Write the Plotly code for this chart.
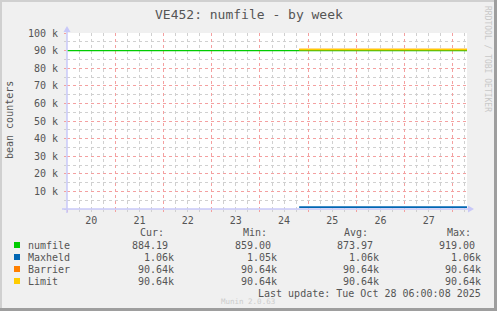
import plotly.graph_objects as go

# ---------------- data ----------------
full_times = ["2025-10-19 23:55", "2025-10-28 07:05"]
numfile_vals = [90000, 90000]
recent_times = ["2025-10-24 19:31", "2025-10-28 07:05"]
maxheld_vals = [1060, 1060]
barrier_vals = [90640, 90640]
limit_vals = [90640, 90640]

y_tick_vals = [10000, 20000, 30000, 40000, 50000, 60000, 70000, 80000, 90000, 100000]
y_tick_text = ["10 k", "20 k", "30 k", "40 k", "50 k", "60 k", "70 k", "80 k", "90 k", "100 k"]

legend_names = ["numfile", "Maxheld", "Barrier", "Limit"]
legend_colors = ["#00CC00", "#0066B3", "#FF8000", "#FFCC00"]
cur_vals = ["884.19", "1.06k", "90.64k", "90.64k"]
min_vals = ["859.00", "1.05k", "90.64k", "90.64k"]
avg_vals = ["873.97", "1.06k", "90.64k", "90.64k"]
max_vals = ["919.00", "1.06k", "90.64k", "90.64k"]
col_headers = ["Cur:", "Min:", "Avg:", "Max:"]

# ---------------- layout helpers ----------------
W, H = 497, 311
L, R, T, B = 67, 30, 33, 102
PW, PH = W - L - R, H - T - B
FONT = "DejaVu Sans Mono"
TXT = "#555555"


def px(x):
    return (x - L) / PW


def py(y):
    return (H - B - y) / PH


fig = go.Figure()
fig.add_trace(go.Scatter(x=full_times, y=numfile_vals, mode="lines",
                         line=dict(color=legend_colors[0], width=1.3), hoverinfo="skip"))
fig.add_trace(go.Scatter(x=recent_times, y=maxheld_vals, mode="lines",
                         line=dict(color=legend_colors[1], width=1.6), hoverinfo="skip"))
fig.add_trace(go.Scatter(x=recent_times, y=barrier_vals, mode="lines",
                         line=dict(color=legend_colors[2], width=1.6), hoverinfo="skip"))
fig.add_trace(go.Scatter(x=recent_times, y=limit_vals, mode="lines",
                         line=dict(color=legend_colors[3], width=1.6), hoverinfo="skip"))

annotations = []
shapes = []

# title
annotations.append(dict(x=px(248.5), y=py(14), xref="paper", yref="paper", text="VE452: numfile - by week",
                        showarrow=False, font=dict(family=FONT, size=13, color=TXT),
                        xanchor="center", yanchor="middle"))
# y title
annotations.append(dict(x=px(10), y=py(120), xref="paper", yref="paper", text="bean counters",
                        showarrow=False, textangle=-90, font=dict(family=FONT, size=10, color=TXT),
                        xanchor="center", yanchor="middle"))
# rrdtool watermark
annotations.append(dict(x=px(488), y=py(59), xref="paper", yref="paper", text="RRDTOOL / TOBI OETIKER",
                        showarrow=False, textangle=90, font=dict(family=FONT, size=8, color="#c8c8c8"),
                        xanchor="center", yanchor="middle"))

# legend headers
header_centers = [151.5, 254.5, 356, 458.5]
for hx, ht in zip(header_centers, col_headers):
    annotations.append(dict(x=px(hx), y=py(233), xref="paper", yref="paper", text=ht, showarrow=False,
                            font=dict(family=FONT, size=10, color=TXT), xanchor="center", yanchor="middle"))

col_right = [176, 279, 381, 483]
row_y = [245, 257, 269, 281]
for i, name in enumerate(legend_names):
    yy = row_y[i]
    shapes.append(dict(type="rect", xref="paper", yref="paper", x0=px(14), x1=px(20),
                       y0=py(yy - 3), y1=py(yy + 3), fillcolor=legend_colors[i], line=dict(width=0)))
    annotations.append(dict(x=px(26), y=py(yy), xref="paper", yref="paper", text=name, showarrow=False,
                            font=dict(family=FONT, size=10, color=TXT), xanchor="left", yanchor="middle"))
    for cx, vals in zip(col_right, [cur_vals, min_vals, avg_vals, max_vals]):
        v = vals[i]
        xr = cx if v.endswith("k") else cx - 6
        annotations.append(dict(x=px(xr), y=py(yy), xref="paper", yref="paper", text=v, showarrow=False,
                                font=dict(family=FONT, size=10, color=TXT), xanchor="right", yanchor="middle"))

annotations.append(dict(x=px(483), y=py(293), xref="paper", yref="paper",
                        text="Last update: Tue Oct 28 06:00:08 2025", showarrow=False,
                        font=dict(family=FONT, size=10, color=TXT), xanchor="right", yanchor="middle"))
annotations.append(dict(x=px(248), y=py(301.5), xref="paper", yref="paper", text="Munin 2.0.63",
                        showarrow=False, font=dict(family=FONT, size=7.5, color="#cccccc"),
                        xanchor="center", yanchor="middle"))

# axis lines with arrows
AX = "#c8c8f8"
shapes.append(dict(type="line", xref="paper", yref="paper", x0=px(62), x1=px(469), y0=py(209), y1=py(209),
                   line=dict(color=AX, width=1.5), layer="above"))
shapes.append(dict(type="line", xref="paper", yref="paper", x0=px(67), x1=px(67), y0=py(213), y1=py(31),
                   line=dict(color=AX, width=1.5), layer="above"))
shapes.append(dict(type="path", xref="paper", yref="paper",
                   path=f"M {px(468)} {py(205.5)} L {px(474)} {py(209)} L {px(468)} {py(212.5)} Z",
                   fillcolor=AX, line=dict(width=0)))
shapes.append(dict(type="path", xref="paper", yref="paper",
                   path=f"M {px(63.5)} {py(32)} L {px(67)} {py(26)} L {px(70.5)} {py(32)} Z",
                   fillcolor=AX, line=dict(width=0)))

# frame
shapes.append(dict(type="rect", xref="paper", yref="paper", x0=px(0), x1=px(2), y0=py(0), y1=py(311),
                   fillcolor="#d0d0d0", line=dict(width=0)))
shapes.append(dict(type="rect", xref="paper", yref="paper", x0=px(0), x1=px(497), y0=py(0), y1=py(2),
                   fillcolor="#d0d0d0", line=dict(width=0)))
shapes.append(dict(type="rect", xref="paper", yref="paper", x0=px(494), x1=px(497), y0=py(0), y1=py(311),
                   fillcolor="#9e9e9e", line=dict(width=0)))
shapes.append(dict(type="rect", xref="paper", yref="paper", x0=px(0), x1=px(497), y0=py(308), y1=py(311),
                   fillcolor="#9e9e9e", line=dict(width=0)))

fig.update_layout(
    width=W, height=H, autosize=False,
    margin=dict(l=L, r=R, t=T, b=B, pad=0),
    paper_bgcolor="#F0F0F0", plot_bgcolor="#FFFFFF",
    showlegend=False,
    annotations=annotations, shapes=shapes,
    xaxis=dict(
        type="date", range=[full_times[0], full_times[1]],
        tick0="2025-10-20", dtick=86400000, tickformat="%d", ticklabelmode="period",
        showgrid=True, gridcolor="#F4A0A0", griddash="dot", gridwidth=1,
        ticks="outside", ticklen=2, tickcolor="#F4A0A0",
        tickfont=dict(family=FONT, size=10, color=TXT),
        minor=dict(dtick=21600000, showgrid=True, gridcolor="#D0D0D0", griddash="dot", gridwidth=1,
                   ticks="outside", ticklen=2, tickcolor="#D0D0D0"),
        showline=False, zeroline=False, fixedrange=True,
    ),
    yaxis=dict(
        range=[0, 100000], tickvals=y_tick_vals, ticktext=y_tick_text,
        showgrid=True, gridcolor="#F4A0A0", griddash="dot", gridwidth=1,
        ticks="outside", ticklen=2, tickcolor="#F4A0A0",
        tickfont=dict(family=FONT, size=10, color=TXT),
        minor=dict(dtick=5000, tick0=0, showgrid=True, gridcolor="#D0D0D0", griddash="dot", gridwidth=1,
                   ticks="outside", ticklen=2, tickcolor="#D0D0D0"),
        showline=False, zeroline=False, fixedrange=True, ticklabelstandoff=4,
    ),
)

fig.write_html("out.html", config={"displayModeBar": False})
